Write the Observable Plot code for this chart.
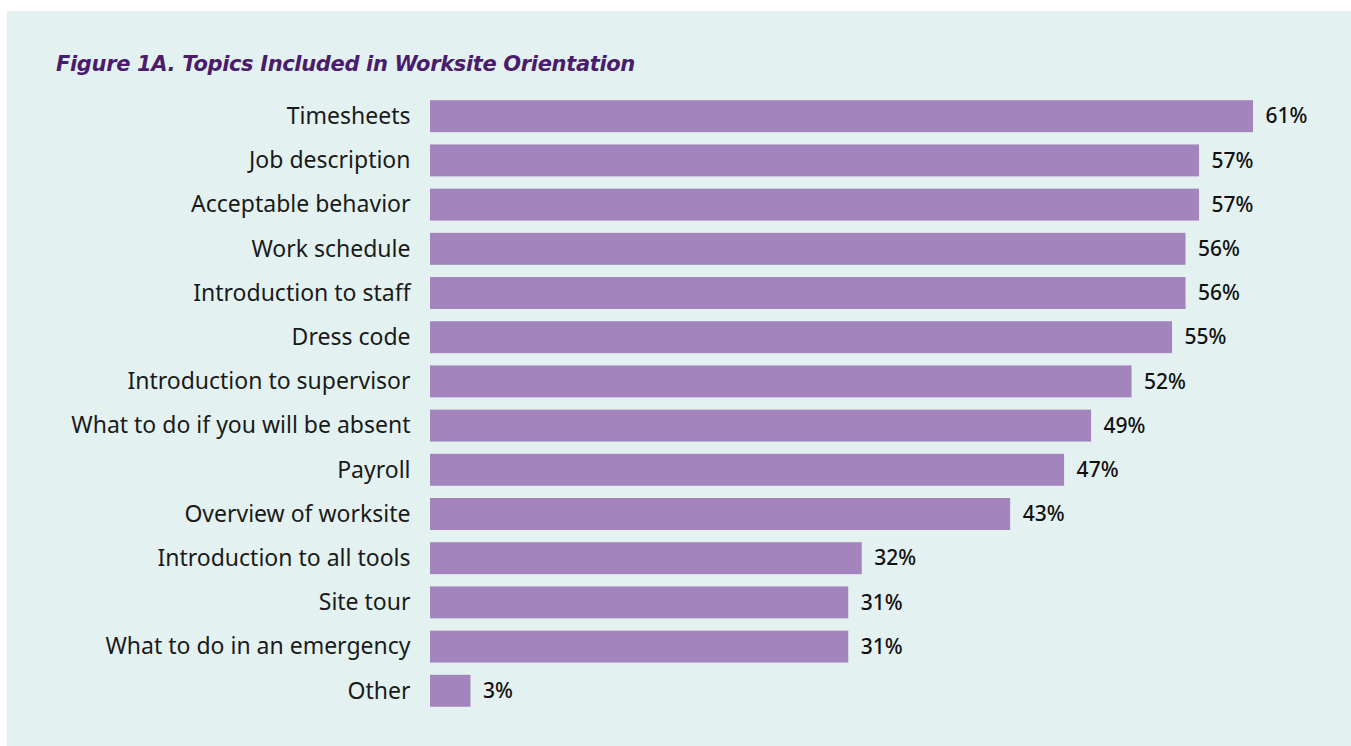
<!DOCTYPE html>
<html>
<head>
<meta charset="utf-8">
<script src="https://cdn.jsdelivr.net/npm/d3@7"></script>
<script src="https://cdn.jsdelivr.net/npm/@observablehq/plot@0.6"></script>
<style>
  html, body { margin: 0; padding: 0; background: #ffffff; width: 1351px; height: 746px; overflow: hidden; }
  #panel { position: absolute; left: 7px; top: 11px; width: 1344px; height: 735px; background: #e3f2f0; }
  #title { position: absolute; left: 56px; top: 52px; margin: 0; font-family: "DejaVu Sans", sans-serif; font-weight: 700; font-style: italic; font-size: 21px; color: #4a1c6c; white-space: nowrap; letter-spacing: -0.35px; }
  #chart { position: absolute; left: 0; top: 88px; }
</style>
</head>
<body>
<div id="panel"></div>
<h2 id="title">Figure 1A. Topics Included in Worksite Orientation</h2>
<div id="chart"></div>
<script>
const topics = [
  "Timesheets",
  "Job description",
  "Acceptable behavior",
  "Work schedule",
  "Introduction to staff",
  "Dress code",
  "Introduction to supervisor",
  "What to do if you will be absent",
  "Payroll",
  "Overview of worksite",
  "Introduction to all tools",
  "Site tour",
  "What to do in an emergency",
  "Other"
];
const percents = [61, 57, 57, 56, 56, 55, 52, 49, 47, 43, 32, 31, 31, 3];

const data = topics.map((t, i) => ({topic: t, value: percents[i]}));

const chart = Plot.plot({
  width: 1351,
  height: 631,
  marginLeft: 430,
  marginRight: 98,
  marginTop: 0,
  marginBottom: 0,
  style: {background: "transparent", fontFamily: "Noto Sans, sans-serif", color: "#1a1a1a"},
  x: {domain: [0, 61], axis: null},
  y: {domain: topics, padding: 0.277, round: false, label: null},
  marks: [
    Plot.barX(data, {x: "value", y: "topic", fill: "#a484bc"}),
    Plot.axisY({tickSize: 0, tickPadding: 20, fontSize: 23, fill: "#1a1a1a", label: null, style: "letter-spacing:0.8px"}),
    Plot.text(data, {x: "value", y: "topic", text: d => d.value + "%", textAnchor: "start", dx: 12, fontSize: 21, fill: "#111", fontWeight: 500})
  ]
});
document.getElementById("chart").appendChild(chart);
</script>
</body>
</html>
